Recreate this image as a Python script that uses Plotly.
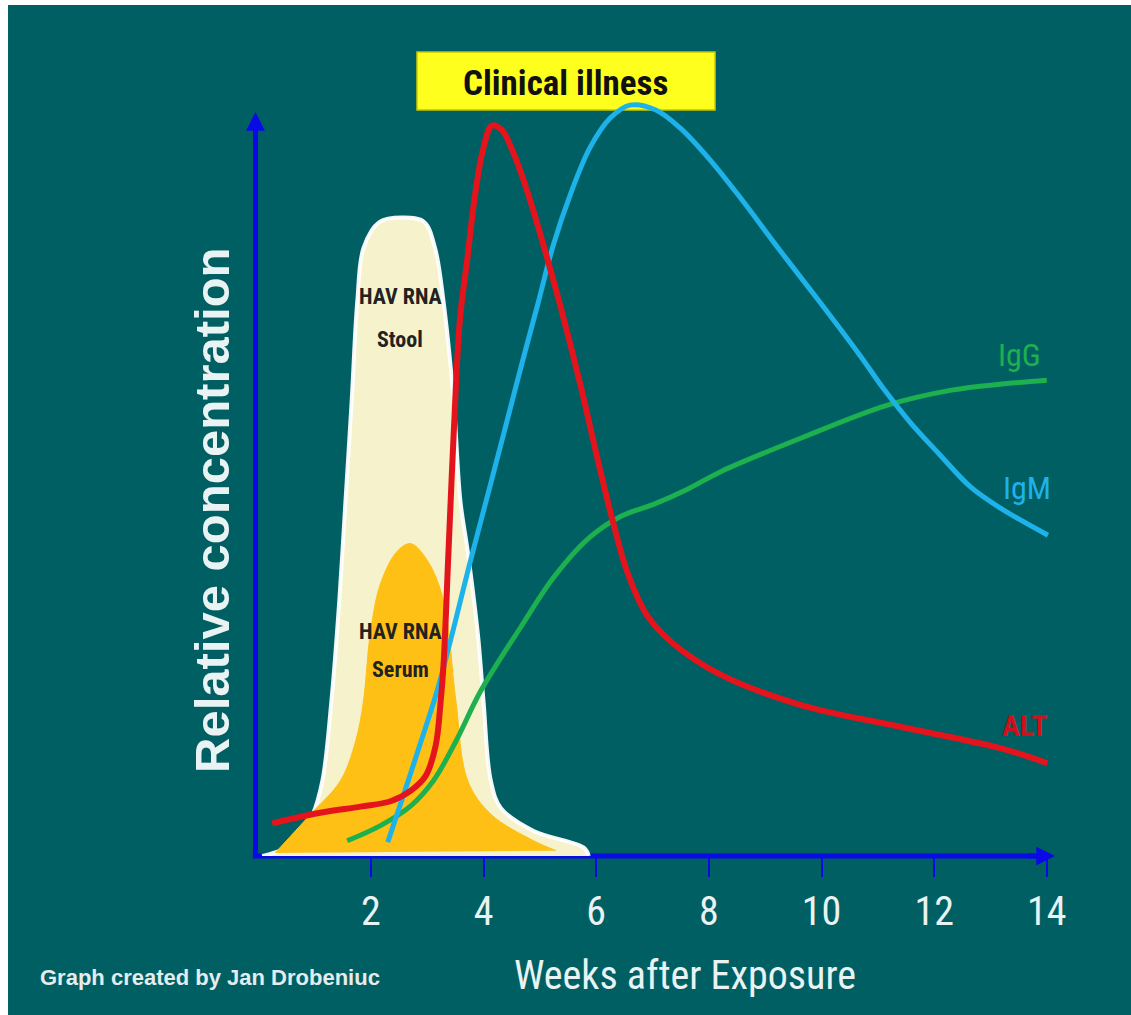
import plotly.graph_objects as go

# ---------------- data (weeks after exposure, relative concentration 0-100) -------------
alt_weeks = [0.25, 1.10, 1.82, 2.35, 2.71, 2.97, 3.15, 3.24, 3.29, 3.38, 3.47, 3.58, 3.71, 3.85, 3.99,
             4.15, 4.33, 4.51, 4.68, 4.91, 5.14, 5.36, 5.72, 6.07, 6.30, 6.55, 6.90, 7.36, 8.20,
             9.62, 11.40, 13.17, 14.01]
alt = [4.3, 5.7, 6.5, 7.2, 8.6, 10.5, 14.5, 20.4, 25.1, 40.3, 55.4, 70.5, 78.4, 87.0, 92.9,
       96.1, 95.5, 92.9, 89.6, 84.3, 78.4, 72.5, 62.0, 50.8, 43.9, 37.4, 31.7, 28.0, 23.9,
       19.9, 17.0, 14.2, 12.2]

igm_weeks = [2.30, 2.61, 2.87, 3.18, 3.46, 3.76, 4.06, 4.35, 4.65, 4.96, 5.24, 5.54, 5.89, 6.25,
             6.60, 7.05, 7.49, 8.02, 8.56, 9.26, 9.97, 10.68, 11.12, 11.57, 12.10, 12.64, 13.17, 14.02]
igm = [1.8, 8.7, 14.6, 21.8, 29.7, 38.6, 47.1, 55.3, 63.9, 72.5, 80.4, 87.0, 93.2, 97.1,
       98.8, 98.2, 95.8, 91.6, 86.6, 79.7, 72.9, 65.9, 61.3, 57.1, 52.8, 48.6, 45.8, 42.2]

igg_weeks = [1.58, 2.17, 2.71, 3.11, 3.51, 3.95, 4.66, 5.25, 5.85, 6.44, 7.03, 7.63, 8.22, 9.64,
             11.16, 12.31, 13.20, 14.00]
igg = [2.0, 4.0, 6.6, 9.9, 15.1, 21.7, 30.1, 36.7, 41.7, 44.7, 46.3, 48.3, 50.6, 55.0,
       59.3, 61.3, 62.1, 62.6]

stool_weeks = [0.07, 0.39, 0.71, 0.96, 1.14, 1.30, 1.44, 1.55, 1.66, 1.76, 1.87, 2.15, 2.59, 2.95,
               3.14, 3.29, 3.47, 3.59, 3.72, 3.90, 4.00, 4.13, 4.31, 4.89, 5.78, 5.87]
stool = [0.0, 0.7, 2.2, 5.3, 9.9, 20.4, 33.6, 46.7, 59.9, 73.0, 80.0, 83.4, 84.0, 83.4,
         80.0, 73.0, 59.9, 46.7, 40.1, 29.2, 20.4, 9.9, 6.3, 3.3, 1.1, 0.0]

serum_weeks = [0.30, 0.45, 0.93, 1.46, 1.73, 1.87, 1.99, 2.17, 2.47, 2.71, 3.01, 3.29, 3.51, 3.72,
               4.13, 4.89, 5.29]
serum = [0.4, 1.6, 5.5, 9.9, 15.1, 20.4, 29.2, 35.8, 40.1, 41.1, 38.8, 33.6, 20.4, 9.9,
         5.5, 2.0, 0.7]

tick_vals = [2, 4, 6, 8, 10, 12, 14]
tick_text = ["2", "4", "6", "8", "10", "12", "14"]

# ---------------- styling -------------
TEAL = "#005F63"
AXBLUE = "#0A0AE6"
NARROW = "Liberation Sans Narrow, Arial Narrow, Roboto Condensed, sans-serif"
ARIAL = "Liberation Sans, Arial, sans-serif"
WHITE_TXT = "#E9F3F3"

fig = go.Figure()

fig.add_trace(go.Scatter(x=stool_weeks, y=stool, mode="lines", fill="toself",
                         fillcolor="rgb(246,242,204)",
                         line=dict(color="rgba(255,255,255,0.95)", width=4, shape="spline"),
                         hoverinfo="skip", showlegend=False))
fig.add_trace(go.Scatter(x=serum_weeks, y=serum, mode="lines", fill="toself",
                         fillcolor="rgb(255,192,22)",
                         line=dict(color="rgb(255,192,22)", width=1, shape="spline"),
                         hoverinfo="skip", showlegend=False))
fig.add_trace(go.Scatter(x=igg_weeks, y=igg, mode="lines", name="IgG",
                         line=dict(color="#1DB04E", width=5, shape="spline"), showlegend=False))
fig.add_trace(go.Scatter(x=igm_weeks, y=igm, mode="lines", name="IgM",
                         line=dict(color="#1EB2EA", width=5, shape="spline"), showlegend=False))
fig.add_trace(go.Scatter(x=alt_weeks, y=alt, mode="lines", name="ALT",
                         line=dict(color="#E3141C", width=6, shape="spline"), showlegend=False))

shapes = [
    # teal panel (white strip left / top)
    dict(type="rect", xref="paper", yref="paper", x0=-0.2627, x1=1.2, y0=-0.35, y1=1.0966,
         fillcolor=TEAL, line=dict(width=0), layer="below"),
    # axes lines
    dict(type="line", xref="paper", yref="paper", x0=0.0302, x1=0.0302, y0=-0.003, y1=0.95,
         line=dict(color=AXBLUE, width=5), layer="below"),
    dict(type="line", xref="paper", yref="paper", x0=0.027, x1=0.97, y0=0.0, y1=0.0,
         line=dict(color=AXBLUE, width=5), layer="below"),
    # Clinical illness box
    dict(type="rect", xref="paper", yref="paper", x0=0.2213, x1=0.574, y0=0.9613, y1=1.0361,
         fillcolor="#FFFF1E", line=dict(color="#C8C800", width=1.5), layer="below"),
]

annotations = [
    # arrow heads
    dict(xref="paper", yref="paper", x=0.0302, y=0.9588, ax=0, ay=30, showarrow=True,
         arrowhead=2, arrowsize=0.75, arrowwidth=5, arrowcolor=AXBLUE, text=""),
    dict(xref="paper", yref="paper", x=0.9763, y=0.0, ax=-30, ay=0, showarrow=True,
         arrowhead=2, arrowsize=0.75, arrowwidth=5, arrowcolor=AXBLUE, text=""),
    # texts
    dict(xref="paper", yref="paper", x=0.3976, y=0.9961, text="<b>Clinical illness</b>",
         showarrow=False, font=dict(family=NARROW, size=35, color="#111111"),
         xanchor="center", yanchor="middle"),
    dict(xref="paper", yref="paper", x=0.5385, y=-0.1534, text="Weeks after Exposure",
         showarrow=False, font=dict(family=NARROW, size=40, color=WHITE_TXT),
         xanchor="center", yanchor="middle"),
    dict(xref="paper", yref="paper", x=-0.0213, y=0.4459, text="<b>Relative concentration</b>",
         textangle=-90, showarrow=False, font=dict(family=ARIAL, size=49, color=WHITE_TXT),
         xanchor="center", yanchor="middle"),
    dict(xref="paper", yref="paper", x=-0.2272, y=-0.1572, text="<b>Graph created by Jan Drobeniuc</b>",
         showarrow=False, font=dict(family=ARIAL, size=22, color="#E4ECEE"),
         xanchor="left", yanchor="middle"),
    # curve labels
    dict(x=13.52, y=65.9, text="IgG", showarrow=False,
         font=dict(family=NARROW, size=32, color="#1DB04E")),
    dict(x=13.65, y=48.4, text="IgM", showarrow=False,
         font=dict(family=NARROW, size=32, color="#1EB2EA")),
    dict(x=13.61, y=17.2, text="<b>ALT</b>", showarrow=False,
         font=dict(family=NARROW, size=30, color="#D0101A")),
    dict(x=2.52, y=73.6, text="<b>HAV RNA</b>", showarrow=False,
         font=dict(family=NARROW, size=22, color="#222222")),
    dict(x=2.52, y=68.0, text="<b>Stool</b>", showarrow=False,
         font=dict(family=NARROW, size=22, color="#222222")),
    dict(x=2.52, y=29.5, text="<b>HAV RNA</b>", showarrow=False,
         font=dict(family=NARROW, size=22, color="#222222")),
    dict(x=2.52, y=24.5, text="<b>Serum</b>", showarrow=False,
         font=dict(family=NARROW, size=22, color="#222222")),
]

fig.update_layout(
    width=1131, height=1015,
    margin=dict(l=230, r=56, t=80, b=159, pad=0),
    paper_bgcolor="white",
    plot_bgcolor="rgba(0,0,0,0)",
    shapes=shapes,
    annotations=annotations,
    showlegend=False,
    xaxis=dict(range=[-0.5, 14.5], tickvals=tick_vals, ticktext=tick_text,
               showgrid=False, zeroline=False, showline=False,
               ticks="outside", ticklen=20, tickwidth=2, tickcolor=AXBLUE,
               ticklabelstandoff=0,
               tickfont=dict(family=NARROW, size=40, color=WHITE_TXT), fixedrange=True),
    yaxis=dict(range=[0, 102.105], visible=False, fixedrange=True),
)

fig.write_html("out.html", config={"displayModeBar": False},
               post_script="document.body.style.margin='0';")
